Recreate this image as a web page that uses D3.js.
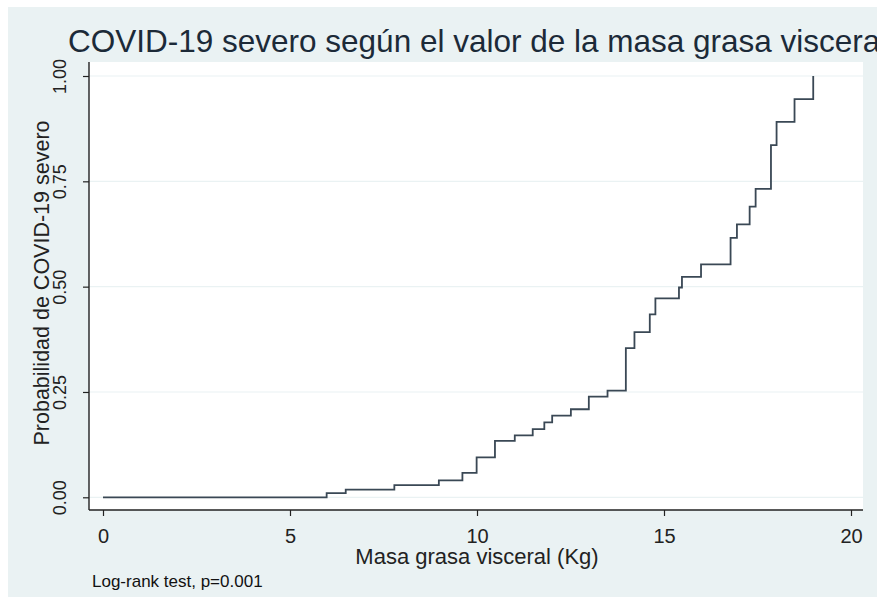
<!DOCTYPE html>
<html>
<head>
<meta charset="utf-8">
<script src="https://cdn.jsdelivr.net/npm/d3@7"></script>
<style>
  html, body { margin: 0; padding: 0; background: #ffffff; }
  svg { display: block; }
  text { font-family: "Liberation Sans", Arial, sans-serif; }
</style>
</head>
<body>
<svg id="chart" width="877" height="605"></svg>
<script>
// ---- Data ----
const stepX = [0, 5.98, 6.49, 7.79, 8.98, 9.61, 9.99, 10.48, 11.01, 11.49, 11.80, 12.01, 12.51, 12.99, 13.49, 13.98, 14.21, 14.62, 14.77, 15.40, 15.48, 15.99, 16.78, 16.95, 17.29, 17.45, 17.86, 18.01, 18.49, 18.99];
const stepY = [0, 0.010, 0.018, 0.029, 0.040, 0.058, 0.095, 0.134, 0.147, 0.162, 0.178, 0.194, 0.209, 0.239, 0.253, 0.354, 0.392, 0.434, 0.472, 0.498, 0.523, 0.553, 0.616, 0.648, 0.690, 0.732, 0.836, 0.891, 0.945, 1.0];
const xTicks = [0, 5, 10, 15, 20];
const yTicks = [0, 0.25, 0.5, 0.75, 1];
const yTickLabels = ["0.00", "0.25", "0.50", "0.75", "1.00"];
const titleText = "COVID-19 severo según el valor de la masa grasa visceral";
const xTitle = "Masa grasa visceral (Kg)";
const yTitle = "Probabilidad de COVID-19 severo";
const noteText = "Log-rank test, p=0.001";

const svg = d3.select("#chart");

// background (graph region)
svg.append("rect").attr("x", 8).attr("y", 7).attr("width", 869).attr("height", 590).attr("fill", "#eaf2f3");
// plot region
const plotL = 89, plotR = 863, plotT = 62, plotB = 510;
svg.append("rect").attr("x", plotL).attr("y", plotT).attr("width", plotR - plotL).attr("height", plotB - plotT).attr("fill", "#ffffff");

const x = d3.scaleLinear().domain([0, 20]).range([103, 851]);
const y = d3.scaleLinear().domain([0, 1]).range([497.3, 76]);

// grid lines
svg.append("g").selectAll("line").data(yTicks).join("line")
  .attr("x1", plotL).attr("x2", plotR)
  .attr("y1", d => y(d)).attr("y2", d => y(d))
  .attr("stroke", "#eaf2f3").attr("stroke-width", 1.2);

// step curve
const pts = stepX.map((d, i) => [d, stepY[i]]);
const line = d3.line().x(d => x(d[0])).y(d => y(d[1])).curve(d3.curveStepAfter);
svg.append("path").attr("d", line(pts)).attr("fill", "none")
  .attr("stroke", "#3a4855").attr("stroke-width", 1.8);

// x axis
const xAxis = d3.axisBottom(x).tickValues(xTicks).tickSize(6).tickPadding(6).tickFormat(d3.format("d"));
const gx = svg.append("g").attr("transform", `translate(0,${plotB})`).call(xAxis);
gx.select(".domain").attr("d", `M${plotL},0H${plotR}`).attr("stroke", "#222").attr("stroke-width", 1.4);
gx.selectAll(".tick line").attr("stroke", "#222").attr("stroke-width", 1.2);
gx.selectAll(".tick text")
  .attr("y", 33).attr("dy", null)
  .attr("font-size", 20).attr("fill", "#222").attr("font-family", "Liberation Sans, Arial, sans-serif");

// y axis
const yAxis = d3.axisLeft(y).tickValues(yTicks).tickSize(6).tickFormat((d, i) => yTickLabels[i]);
const gy = svg.append("g").attr("transform", `translate(${plotL},0)`).call(yAxis);
gy.select(".domain").attr("d", `M0,${plotT}V${plotB}`).attr("stroke", "#222").attr("stroke-width", 1.4);
gy.selectAll(".tick line").attr("stroke", "#222").attr("stroke-width", 1.2);
gy.selectAll(".tick text")
  .attr("x", null).attr("dy", null)
  .attr("transform", "translate(-23,0) rotate(-90)")
  .attr("text-anchor", "middle")
  .attr("font-size", 18).attr("fill", "#222").attr("font-family", "Liberation Sans, Arial, sans-serif");

// titles
svg.append("text").attr("x", 68).attr("y", 52).attr("font-size", 31.5).attr("fill", "#1c2a38").text(titleText);
svg.append("text").attr("x", 477).attr("y", 564).attr("text-anchor", "middle").attr("font-size", 22).attr("fill", "#222").text(xTitle);
svg.append("text").attr("transform", "translate(49,283) rotate(-90)").attr("text-anchor", "middle").attr("font-size", 21.5).attr("fill", "#222").text(yTitle);
svg.append("text").attr("x", 92).attr("y", 587).attr("font-size", 17).attr("fill", "#111").text(noteText);
</script>
</body>
</html>
